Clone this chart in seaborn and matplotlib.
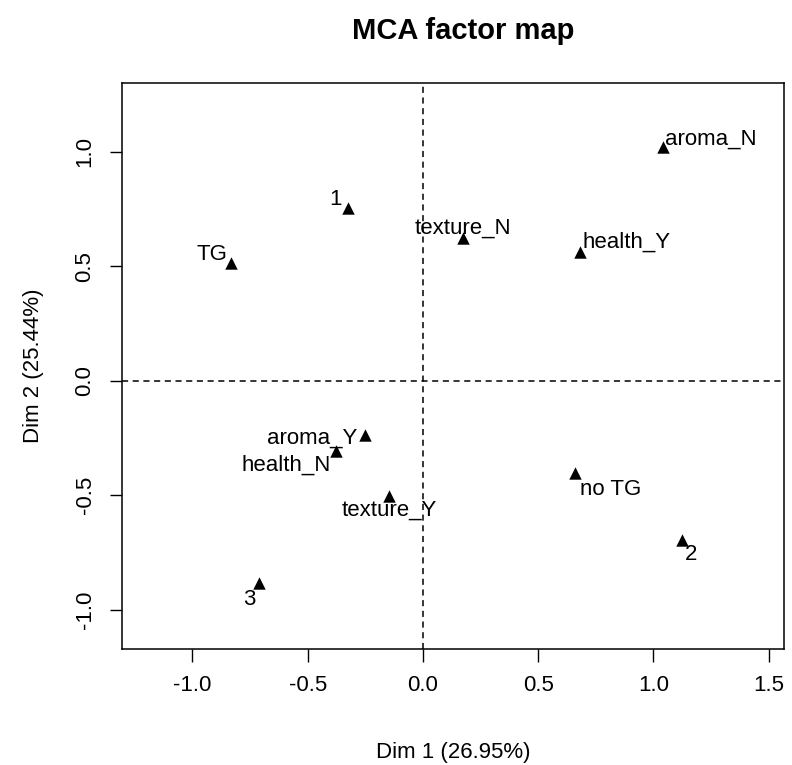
import numpy as np
import pandas as pd
import matplotlib
matplotlib.use("Agg")
import matplotlib.pyplot as plt
import seaborn as sns

# coordonate categorii
categories = ["aroma_N", "health_Y", "1", "texture_N", "TG", "aroma_Y",
              "health_N", "texture_Y", "3", "no TG", "2"]
dim1 = [1.042, 0.681, -0.326, 0.174, -0.833, -0.252, -0.378, -0.148, -0.712, 0.660, 1.124]
dim2 = [1.022, 0.563, 0.755, 0.624, 0.515, -0.236, -0.306, -0.502, -0.882, -0.402, -0.694]

x_ticks = [-1.0, -0.5, 0.0, 0.5, 1.0, 1.5]
y_ticks = [-1.0, -0.5, 0.0, 0.5, 1.0]

df = pd.DataFrame({"cat": categories, "Dim1": dim1, "Dim2": dim2})

# pozitia etichetelor (pixeli fata de punct) si aliniere
label_style = {
    "aroma_N": (2, 8, "left"),
    "health_Y": (3, 10, "left"),
    "1": (-6, 9, "right"),
    "texture_N": (0, 10, "center"),
    "TG": (-4, 8, "right"),
    "aroma_Y": (-7, -3, "right"),
    "health_N": (-5, -14, "right"),
    "texture_Y": (0, -14, "center"),
    "3": (-3, -17, "right"),
    "no TG": (5, -17, "left"),
    "2": (3, -15, "left"),
}

sns.set_style("white")
plt.rcParams["font.family"] = ["Liberation Sans", "DejaVu Sans"]
plt.rcParams["text.color"] = "black"
plt.rcParams["axes.labelcolor"] = "black"
plt.rcParams["xtick.color"] = "black"
plt.rcParams["ytick.color"] = "black"

fig = plt.figure(figsize=(7.92, 7.65), dpi=100)
ax = fig.add_axes([0.154, 0.152, 0.836, 0.7395])

sns.scatterplot(data=df, x="Dim1", y="Dim2", marker="^", color="black",
                s=80, edgecolor="black", linewidth=0, ax=ax, zorder=3)

ax.axvline(0, color="black", linestyle=(0, (4, 3)), linewidth=1.1)
ax.axhline(0, color="black", linestyle=(0, (4, 3)), linewidth=1.1)

for _, r in df.iterrows():
    dx, dy, ha = label_style[r["cat"]]
    ax.annotate(r["cat"], (r["Dim1"], r["Dim2"]), xytext=(dx, dy),
                textcoords="offset pixels", ha=ha, va="center", fontsize=16,
                color="black")

ax.set_xlim(-1.306, 1.567)
ax.set_ylim(-1.170, 1.301)
ax.set_xticks(x_ticks)
ax.set_yticks(y_ticks)
ax.set_xticklabels([f"{v:.1f}" for v in x_ticks], fontsize=16)
ax.set_yticklabels([f"{v:.1f}" for v in y_ticks], fontsize=16, rotation=90, va="center")
ax.tick_params(axis="both", direction="out", length=9, width=1, color="black",
               left=True, bottom=True, pad=10)

for sp in ax.spines.values():
    sp.set_color("black")
    sp.set_linewidth(1.1)

ax.set_xlabel("Dim 1 (26.95%)", fontsize=16, labelpad=33)
ax.set_ylabel("Dim 2 (25.44%)", fontsize=16, labelpad=22)
fig.suptitle("MCA factor map", fontsize=21, fontweight="bold", x=0.585, y=0.978)

plt.savefig("out.png", dpi=100)
